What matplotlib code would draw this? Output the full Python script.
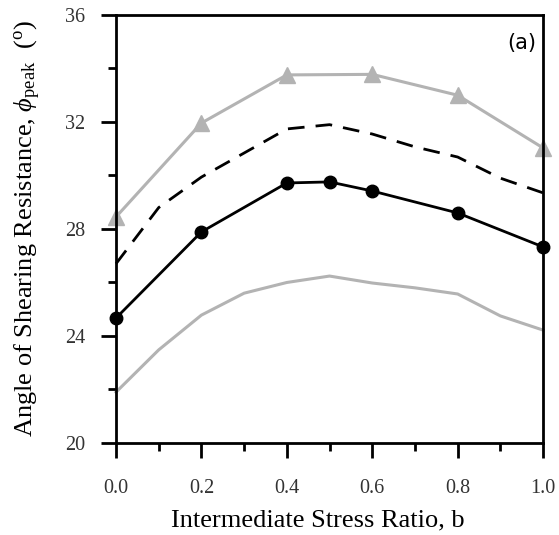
import matplotlib
matplotlib.use("Agg")
import matplotlib.pyplot as plt
from matplotlib.ticker import MultipleLocator, FormatStrFormatter

# values
b_tri = [0.0, 0.2, 0.4, 0.6, 0.8, 1.0]
phi_tri = [28.45, 31.96, 33.76, 33.78, 33.0, 31.03]

b_circ = [0.0, 0.2, 0.4, 0.5, 0.6, 0.8, 1.0]
phi_circ = [24.67, 27.89, 29.72, 29.76, 29.42, 28.6, 27.33]

b_fine = [0.0, 0.1, 0.2, 0.3, 0.4, 0.5, 0.6, 0.7, 0.8, 0.9, 1.0]
phi_dash = [26.7, 28.8, 29.94, 30.84, 31.74, 31.9, 31.55, 31.07, 30.69, 29.9, 29.35]
phi_low = [21.9, 23.48, 24.78, 25.6, 26.0, 26.24, 25.98, 25.8, 25.57, 24.75, 24.22]

plt.rcParams["font.family"] = "Liberation Serif"
plt.rcParams["mathtext.fontset"] = "custom"
plt.rcParams["mathtext.rm"] = "Liberation Serif"
plt.rcParams["mathtext.it"] = "Liberation Serif:italic"

fig = plt.figure(figsize=(5.59, 5.35), dpi=100)
ax = fig.add_axes([0.2075, 0.172, 0.764, 0.800])

gray = "#b3b3b3"
ax.plot(b_fine, phi_low, color=gray, lw=2.2, clip_on=False)
ax.plot(b_tri, phi_tri, color=gray, lw=2.2, marker="^", ms=11, clip_on=False)
ax.plot(b_fine, phi_dash, color="black", lw=2.0, dashes=(6, 4), clip_on=False)
ax.plot(b_circ, phi_circ, color="black", lw=2.0, marker="o", ms=9, clip_on=False, zorder=5)

ax.set_xlim(0, 1.0)
ax.set_ylim(20, 36)
ax.xaxis.set_major_locator(MultipleLocator(0.2))
ax.xaxis.set_minor_locator(MultipleLocator(0.1))
ax.yaxis.set_major_locator(MultipleLocator(4))
ax.yaxis.set_minor_locator(MultipleLocator(2))
ax.xaxis.set_major_formatter(FormatStrFormatter("%.1f"))

for s in ax.spines.values():
    s.set_linewidth(2.0)
ax.tick_params(which="major", direction="out", length=11, width=2.0, labelsize=14.5)
ax.tick_params(which="minor", direction="out", length=6, width=2.0)
ax.tick_params(axis="x", which="major", pad=15)
ax.tick_params(axis="y", which="major", pad=11)
for lab in ax.get_xticklabels() + ax.get_yticklabels():
    lab.set_color("#333333")

ax.set_xlabel("Intermediate Stress Ratio, b", fontsize=19, labelpad=7)
ax.xaxis.set_label_coords(0.473, -0.155)
ax.set_ylabel(r"Angle of Shearing Resistance, $\phi_{\rm peak}$  ($^{\rm o}$)", fontsize=19, labelpad=16)

ax.text(0.985, 0.935, "(a)", transform=ax.transAxes, ha="right", va="center",
        fontsize=15, family="DejaVu Sans")

plt.savefig("out.png", dpi=100)
